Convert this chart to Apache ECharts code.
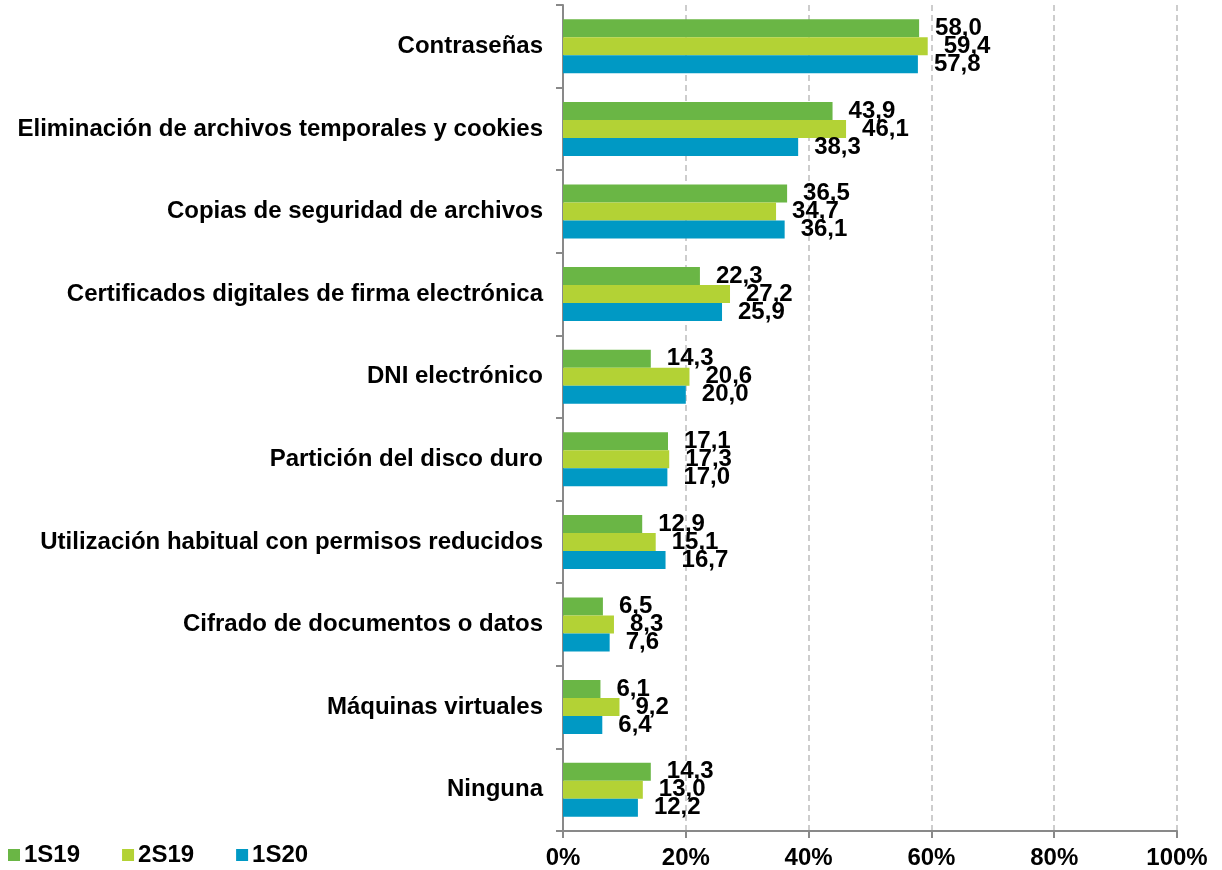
<!DOCTYPE html>
<html>
<head>
<meta charset="utf-8">
<script src="https://cdn.jsdelivr.net/npm/echarts@6/dist/echarts.min.js"></script>
<style>
html,body{margin:0;padding:0;background:#fff;}
#chart{width:1222px;height:870px;}
</style>
</head>
<body>
<div id="chart"></div>
<script>
var categories = ['Contraseñas','Eliminación de archivos temporales y cookies','Copias de seguridad de archivos',
	'Certificados digitales de firma electrónica','DNI electrónico','Partición del disco duro',
	'Utilización habitual con permisos reducidos','Cifrado de documentos o datos','Máquinas virtuales','Ninguna'];
var s1S19 = [58.0,43.9,36.5,22.3,14.3,17.1,12.9,6.5,6.1,14.3];
var s2S19 = [59.4,46.1,34.7,27.2,20.6,17.3,15.1,8.3,9.2,13.0];
var s1S20 = [57.8,38.3,36.1,25.9,20.0,17.0,16.7,7.6,6.4,12.2];
var seriesNames = ['1S19','2S19','1S20'];
var colors = ['#6ab645','#b3d235','#0099c4'];

var fontFam = '"Liberation Sans", Arial, sans-serif';

function mkSeries(name,data,color){
	return {
		name: name,
		type: 'bar',
		data: data,
		barWidth: 18,
		barGap: '0%',
		itemStyle: {color: color},
		label: {
			show: true,
			position: 'right',
			distance: 16,
			color: '#000',
			fontWeight: 'bold',
			fontSize: 24,
			lineHeight: 18,
			fontFamily: fontFam,
			formatter: function(p){ return p.value.toFixed(1).replace('.',','); }
		}
	};
}

var chart = echarts.init(document.getElementById('chart'));
chart.setOption({
	animation: false,
	color: colors,
	legend: {
		left: 8,
		top: 843,
		padding: 0,
		itemWidth: 12,
		itemHeight: 12,
		itemGap: 42,
		icon: 'rect',
		textStyle: {fontSize: 24, fontWeight: 'bold', color: '#000', fontFamily: fontFam, padding: [0,0,0,-1]},
		data: seriesNames
	},
	grid: {left: 563, right: 45, top: 5, bottom: 38},
	xAxis: {
		type: 'value',
		min: 0,
		max: 100,
		interval: 20,
		axisLine: {show: true, lineStyle: {color: '#898989', width: 2}},
		axisTick: {show: true, length: 7, lineStyle: {color: '#898989', width: 2}},
		axisLabel: {formatter: '{value}%', fontSize: 24, fontWeight: 'bold', color: '#000', fontFamily: fontFam, margin: 15},
		splitLine: {show: true, lineStyle: {color: '#bdbdbd', type: [6,4], width: 1.5}}
	},
	yAxis: {
		type: 'category',
		inverse: true,
		data: categories,
		axisLine: {show: true, lineStyle: {color: '#898989', width: 2}},
		axisTick: {show: true, length: 7, lineStyle: {color: '#898989', width: 2}},
		axisLabel: {fontSize: 24, fontWeight: 'bold', color: '#000', fontFamily: fontFam, margin: 20}
	},
	series: [
		mkSeries(seriesNames[0], s1S19, colors[0]),
		mkSeries(seriesNames[1], s2S19, colors[1]),
		mkSeries(seriesNames[2], s1S20, colors[2])
	]
});
</script>
</body>
</html>
